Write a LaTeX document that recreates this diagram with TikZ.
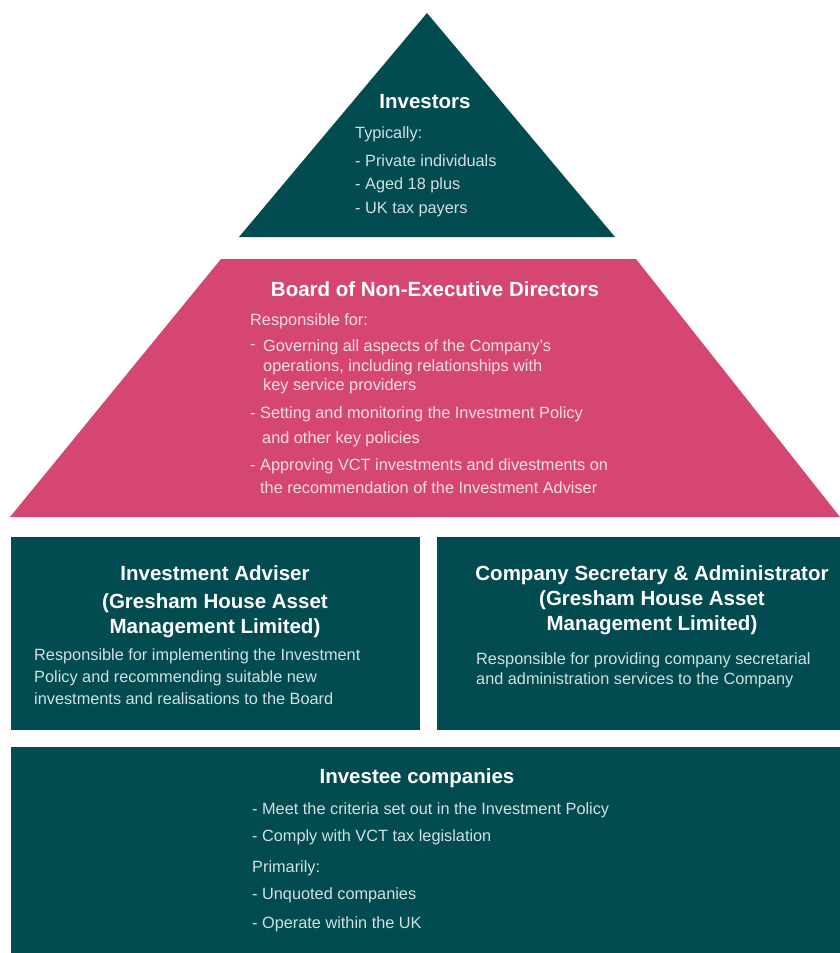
\documentclass[tikz,border=0pt]{standalone}
\usepackage{fontspec}
\setmainfont{Liberation Sans}
\definecolor{teal}{HTML}{024C51}
\definecolor{pinkbox}{HTML}{D64673}
\definecolor{tealtext}{HTML}{CFE0E0}
\definecolor{pinktext}{HTML}{F8DDE6}
\tikzset{
  ttl/.style={anchor=base, text=white, font=\fontsize{20.5}{22}\selectfont\bfseries, inner sep=0pt},
  bdy/.style={anchor=base west, text=tealtext, font=\fontsize{16.3}{18}\selectfont, inner sep=0pt},
  pbdy/.style={bdy, text=pinktext},
  tealshape/.style={fill=teal, draw=none},
  pinkshape/.style={fill=pinkbox, draw=none}
}
\begin{document}
\begin{tikzpicture}[x=1pt,y=-1pt]
\useasboundingbox (0,0) rectangle (840,953);
% shapes
\fill[tealshape] (427,13) -- (615,237) -- (239,237) -- cycle;
\fill[pinkshape] (221,259) -- (636,259) -- (840,517) -- (10,517) -- cycle;
\fill[tealshape] (11,537) rectangle (420,730);
\fill[tealshape] (437,537) rectangle (840,730);
\fill[tealshape] (11,747) rectangle (840,953);
% investors
\node[ttl] (invt) at (425,108) {Investors};
\node[bdy] (inv1) at (355,138) {Typically:};
\node[bdy] (inv2) at (355,166) {- Private individuals};
\node[bdy] (inv3) at (355,189) {- Aged 18 plus};
\node[bdy] (inv4) at (355,213) {- UK tax payers};
% board
\node[ttl] (bdt) at (435,296) {Board of Non-Executive Directors};
\node[pbdy] (bd1) at (250,325) {Responsible for:};
\node[pbdy] (bd2d) at (250,349) {-};
\node[pbdy] (bd2) at (263,351) {Governing all aspects of the Company’s};
\node[pbdy] (bd3) at (263,371) {operations, including relationships with};
\node[pbdy] (bd4) at (263,390) {key service providers};
\node[pbdy] (bd5) at (250,418) {- Setting and monitoring the Investment Policy};
\node[pbdy] (bd6) at (262,443) {and other key policies};
\node[pbdy] (bd7) at (250,470) {- Approving VCT investments and divestments on};
\node[pbdy] (bd8) at (260,493) {the recommendation of the Investment Adviser};
% investment adviser
\node[ttl] (iat1) at (215,580) {Investment Adviser};
\node[ttl] (iat2) at (215,608) {(Gresham House Asset};
\node[ttl] (iat3) at (215,633) {Management Limited)};
\node[bdy] (ia1) at (34,660) {Responsible for implementing the Investment};
\node[bdy] (ia2) at (34,682) {Policy and recommending suitable new};
\node[bdy] (ia3) at (34,704) {investments and realisations to the Board};
% company secretary
\node[ttl] (cst1) at (652,580) {Company Secretary \& Administrator};
\node[ttl] (cst2) at (652,605) {(Gresham House Asset};
\node[ttl] (cst3) at (652,630) {Management Limited)};
\node[bdy] (cs1) at (476,664) {Responsible for providing company secretarial};
\node[bdy] (cs2) at (476,684) {and administration services to the Company};
% investee
\node[ttl] (ict) at (417,783) {Investee companies};
\node[bdy] (ic1) at (252,814) {- Meet the criteria set out in the Investment Policy};
\node[bdy] (ic2) at (252,841) {- Comply with VCT tax legislation};
\node[bdy] (ic3) at (252,872) {Primarily:};
\node[bdy] (ic4) at (252,899) {- Unquoted companies};
\node[bdy] (ic5) at (252,928) {- Operate within the UK};
\end{tikzpicture}
\end{document}
